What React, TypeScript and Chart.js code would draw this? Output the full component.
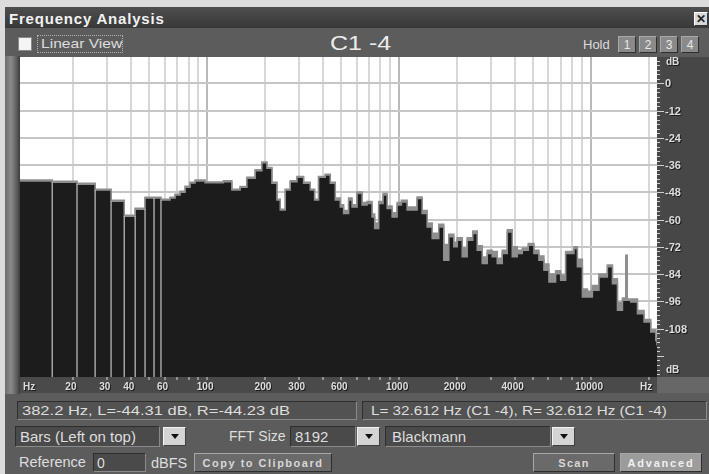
import React, { useEffect, useRef } from "react";
import { Chart, registerables } from "chart.js";

Chart.register(...registerables);

// ---- data ----
const freqHz = [
  10.6, 15.6, 21.0, 26.1, 31.6, 37.0, 42.2, 47.5, 52.9, 57.5,
  64.1, 68.1, 72.3, 76.8, 81.5, 86.6, 91.9, 97.6, 110.1, 121.6,
  134.5, 148.6, 161.1, 178.0, 192.9, 204.8, 217.5, 231.0, 240.4, 255.3,
  271.0, 293.8, 318.0, 344.6, 362.9, 380.7, 412.6, 438.1, 465.2, 494.0,
  514.0, 545.9, 568.6, 603.8, 641.2, 680.9, 723.1, 746.0, 782.8, 825.2,
  865.9, 919.5, 976.4, 1028, 1101, 1169, 1241, 1318, 1400, 1487,
  1609, 1709, 1815, 1927, 2007, 2132, 2263, 2421, 2552, 2710,
  2878, 3056, 3245, 3446, 3660, 3886, 4126, 4382, 4709, 5037,
  5349, 5680, 6032, 6537, 6940, 7371, 8144, 8484, 9010, 9566,
  10160, 10990, 12160, 12920, 13720, 14570, 15160, 15430, 16090, 17440,
  18880, 20460, 21730, 22050,
];

const leftDb = [
  -43.0, -43.5, -44.4, -47.0, -51.9, -58.5, -55.4, -50.5, -50.5, -51.4,
  -50.5, -49.2, -47.9, -45.7, -43.9, -43.0, -43.0, -43.8, -43.8, -43.3,
  -47.0, -45.8, -41.8, -38.5, -35.0, -37.4, -44.0, -51.4, -55.8, -47.0,
  -43.3, -41.4, -44.0, -47.0, -51.4, -41.4, -40.4, -44.0, -51.4, -54.4,
  -57.3, -51.4, -54.4, -48.5, -53.6, -52.9, -58.8, -63.9, -52.9, -49.2,
  -55.1, -58.8, -53.6, -52.2, -55.8, -55.8, -50.7, -57.3, -63.2, -68.3,
  -63.2, -77.9, -67.6, -72.0, -69.1, -76.4, -69.1, -66.1, -73.5, -79.3,
  -74.9, -76.4, -79.3, -74.9, -65.4, -76.4, -74.9, -73.5, -71.3, -74.9,
  -77.9, -82.3, -87.5, -83.8, -86.7, -74.9, -72.7, -80.8, -94.1, -94.1,
  -91.1, -85.3, -80.8, -88.2, -99.9, -95.5, -95.5, -95.5, -96.3, -101.4,
  -105.1, -109.5, -113.2, -115.4,
];

const rightDb = [
  -42.6, -43.1, -44.0, -46.6, -51.5, -58.1, -55.0, -50.1, -50.1, -51.0,
  -50.1, -48.8, -47.5, -45.3, -43.5, -42.6, -42.6, -43.4, -43.4, -42.9,
  -46.6, -45.4, -41.4, -38.1, -34.6, -37.0, -43.6, -51.0, -55.4, -46.6,
  -42.9, -41.0, -43.6, -46.6, -51.0, -41.0, -40.0, -43.6, -50.5, -53.5,
  -56.0, -50.5, -53.5, -47.8, -52.5, -52.0, -57.5, -61.5, -52.0, -48.5,
  -54.0, -57.0, -52.5, -51.5, -54.5, -54.5, -50.0, -56.0, -61.5, -66.0,
  -62.0, -71.0, -66.5, -70.0, -68.0, -72.5, -68.0, -65.0, -71.5, -76.5,
  -73.5, -74.0, -77.0, -73.5, -64.5, -72.0, -73.5, -72.5, -70.5, -73.5,
  -76.0, -79.5, -84.0, -82.5, -84.5, -74.0, -72.0, -77.5, -90.5, -91.5,
  -89.0, -84.0, -80.0, -86.0, -96.5, -94.5, -75.7, -95.0, -95.0, -100.0,
  -104.0, -108.5, -112.0, -115.0,
];

const barSeparatorMaxHz = 58;
const xGridHz = [
  20, 30, 40, 50, 60, 70, 80, 90,
  100, 200, 300, 400, 500, 600, 700, 800, 900,
  1000, 2000, 3000, 4000, 5000, 6000, 7000, 8000, 9000,
  10000, 20000,
];
const xMajorHz = [100, 1000, 10000];
const xLabelHz = [20, 30, 40, 60, 100, 200, 300, 500, 1000, 2000, 4000, 10000];
const xLabelText = ["20", "30", "40", "60", "100", "200", "300", "600", "1000", "2000", "4000", "10000"];
const yTickDb = [0, -12, -24, -36, -48, -60, -72, -84, -96, -108, -120];
const yLabelDb = [0, -12, -24, -36, -48, -60, -72, -84, -96, -108];
const yMinDb = -129.3;
const yMaxDb = 11.6;
const xMinHz = 10.6;
const xMaxHz = 22050;

const FONT = '"Liberation Sans", Arial, sans-serif';

function embossText(ctx: any, t: string, x: number, y: number) {
  ctx.fillStyle = "#1a1a1a";
  ctx.fillText(t, x + 1, y + 1);
  ctx.fillStyle = "#dedede";
  ctx.fillText(t, x, y);
}

const bgPlugin = {
  id: "bg",
  beforeDraw(chart: any) {
    const { ctx, chartArea: a, width, height } = chart;
    ctx.save();
    ctx.fillStyle = "#ffffff";
    ctx.fillRect(a.left, a.top, a.right - a.left, a.bottom - a.top);
    ctx.fillStyle = "#474747";
    ctx.fillRect(a.right, 0, width - a.right, a.bottom);
    ctx.fillStyle = "#4a4a4a";
    ctx.fillRect(0, a.bottom, a.right, height - a.bottom);
    ctx.fillStyle = "#676767";
    ctx.fillRect(a.right, a.bottom, width - a.right, height - a.bottom);
    ctx.restore();
  },
};

const separatorPlugin = {
  id: "separators",
  afterDatasetsDraw(chart: any) {
    const { ctx } = chart;
    const xs = chart.scales.x;
    const ys = chart.scales.y;
    ctx.save();
    ctx.strokeStyle = "#b8b8b8";
    ctx.lineWidth = 1.3;
    for (let i = 1; i < freqHz.length && freqHz[i] <= barSeparatorMaxHz; i++) {
      const px = xs.getPixelForValue(freqHz[i]);
      const top = ys.getPixelForValue(Math.min(leftDb[i - 1], leftDb[i]));
      ctx.beginPath();
      ctx.moveTo(px, ys.bottom);
      ctx.lineTo(px, top);
      ctx.stroke();
    }
    ctx.restore();
  },
};

const axisTextPlugin = {
  id: "axisText",
  afterDraw(chart: any) {
    const { ctx, chartArea: a } = chart;
    const ys = chart.scales.y;
    const xs = chart.scales.x;
    ctx.save();
    ctx.strokeStyle = "#d0d0d0";
    ctx.lineWidth = 1;
    for (let d = 10; d >= -128; d -= 2) {
      const py = Math.round(ys.getPixelForValue(d)) + 0.5;
      const len = d % 12 === 0 ? 7 : 3;
      ctx.beginPath();
      ctx.moveTo(a.right, py);
      ctx.lineTo(a.right + len, py);
      ctx.stroke();
    }
    ctx.font = `bold 11px ${FONT}`;
    ctx.textBaseline = "middle";
    ctx.textAlign = "left";
    yLabelDb.forEach((v) => {
      embossText(ctx, String(v), a.right + 8, ys.getPixelForValue(v) + 1);
    });
    ctx.font = `bold 10px ${FONT}`;
    embossText(ctx, "dB", a.right + 9, a.top + 5);
    embossText(ctx, "dB", a.right + 9, a.bottom - 7);
    ctx.textAlign = "center";
    xLabelHz.forEach((v, i) => {
      embossText(ctx, xLabelText[i], xs.getPixelForValue(v) - 2, a.bottom + 10);
    });
    ctx.textAlign = "left";
    embossText(ctx, "Hz", 3, a.bottom + 10);
    embossText(ctx, "Hz", a.right - 17, a.bottom + 10);
    ctx.restore();
  },
};

function sunken(extra: React.CSSProperties): React.CSSProperties {
  return {
    position: "absolute",
    boxSizing: "border-box",
    background: "#525252",
    borderStyle: "solid",
    borderWidth: 1,
    borderColor: "#2e2e2e #8a8a8a #8a8a8a #2e2e2e",
    color: "#dedede",
    fontSize: 13,
    lineHeight: "normal",
    paddingLeft: 4,
    display: "flex",
    alignItems: "center",
    whiteSpace: "nowrap",
    overflow: "hidden",
    ...extra,
  };
}

function raised(extra: React.CSSProperties): React.CSSProperties {
  return {
    position: "absolute",
    boxSizing: "border-box",
    background: "#6a6a6a",
    borderStyle: "solid",
    borderWidth: 1,
    borderColor: "#a8a8a8 #2e2e2e #2e2e2e #a8a8a8",
    color: "#e0e0e0",
    display: "flex",
    alignItems: "center",
    justifyContent: "center",
    whiteSpace: "nowrap",
    ...extra,
  };
}

function Wide({ text, sx = 1.2 }: { text: string; sx?: number }) {
  return <span style={{ display: "inline-block", transform: `scaleX(${sx})`, transformOrigin: "left center" }}>{text}</span>;
}

function Arrow({ left, top }: { left: number; top: number }) {
  return (
    <div style={raised({ left, top, width: 23, height: 19, background: "#d4d4d4", borderColor: "#f4f4f4 #404040 #404040 #f4f4f4" })}>
      <div style={{ width: 0, height: 0, borderLeft: "4px solid transparent", borderRight: "4px solid transparent", borderTop: "5px solid #111" }} />
    </div>
  );
}

function Label({ left, top, text, size = 13, color = "#dedede" }: { left: number; top: number; text: string; size?: number; color?: string }) {
  return (
    <div style={{ position: "absolute", left, top, fontSize: size, color, whiteSpace: "nowrap", lineHeight: "normal" }}>{text}</div>
  );
}

export default function App() {
  const ref = useRef<HTMLCanvasElement>(null);

  useEffect(() => {
    const canvas = ref.current!;
    const common = { fill: "start", pointRadius: 0, borderWidth: 1.5, stepped: "before" };
    const chart = new Chart(canvas, {
      type: "line",
      data: {
        datasets: [
          { ...common, label: "L", data: freqHz.map((f, i) => ({ x: f, y: leftDb[i] })), backgroundColor: "#1c1c1c", borderColor: "#8e8e8e" },
          { ...common, label: "R", data: freqHz.map((f, i) => ({ x: f, y: rightDb[i] })), backgroundColor: "#8e8e8e", borderColor: "#8e8e8e" },
        ],
      },
      options: {
        animation: false,
        responsive: false,
        maintainAspectRatio: false,
        layout: { padding: 0 },
        plugins: { legend: { display: false }, tooltip: { enabled: false } },
        scales: {
          x: {
            type: "logarithmic",
            min: xMinHz,
            max: xMaxHz,
            afterBuildTicks: (s: any) => {
              s.ticks = xGridHz.map((v) => ({ value: v }));
            },
            afterFit: (s: any) => {
              s.height = 16;
            },
            ticks: { display: false },
            grid: {
              color: (c: any) => (xMajorHz.includes(c.tick?.value) ? "#b9b9b9" : "#d8d8d8"),
              lineWidth: 2,
              drawTicks: true,
              tickLength: 3,
              tickColor: "#d8d8d8",
              tickWidth: 1,
            },
            border: { display: false },
          },
          y: {
            type: "linear",
            position: "right",
            min: yMinDb,
            max: yMaxDb,
            afterBuildTicks: (s: any) => {
              s.ticks = yTickDb.map((v) => ({ value: v }));
            },
            afterFit: (s: any) => {
              s.width = 52;
            },
            ticks: { display: false },
            grid: { color: "#c6c6c6", lineWidth: 2, drawTicks: false },
            border: { display: false },
          },
        },
      },
      plugins: [bgPlugin, separatorPlugin, axisTextPlugin],
    } as any);
    return () => chart.destroy();
  }, []);

  return (
    <div style={{ position: "fixed", left: 0, top: 0, width: 709, height: 474, background: "#5c5c5c", overflow: "hidden", fontFamily: FONT }}>
      <div style={{ position: "absolute", left: 0, top: 0, width: 709, height: 7, background: "#dcdcdc" }} />
      <div style={{ position: "absolute", left: 0, top: 0, width: 5, height: 474, background: "#dcdcdc" }} />
      <div style={{ position: "absolute", left: 5, top: 7, width: 704, height: 21, background: "linear-gradient(#4e4e4e, #383838)" }} />
      <div style={{ position: "absolute", left: 9, top: 10, fontSize: 15, fontWeight: "bold", letterSpacing: 0.8, color: "#f2f2f2", whiteSpace: "nowrap" }}>Frequency Analysis</div>
      <div style={raised({ left: 694, top: 12, width: 14, height: 14, background: "#d8d8d8", borderColor: "#fff #333 #333 #fff", color: "#222", fontSize: 12, fontWeight: "bold" })}>✕</div>
      <div style={{ position: "absolute", left: 18, top: 37, width: 14, height: 14, background: "#f4f4f4", boxSizing: "border-box", border: "1px solid #8a8a8a" }} />
      <div style={{ position: "absolute", left: 37, top: 35, width: 86, height: 18, boxSizing: "border-box", border: "1px dotted #b0b0b0" }} />
      <div style={{ position: "absolute", left: 41, top: 36, fontSize: 13, color: "#dcdcdc", whiteSpace: "nowrap" }}><Wide text="Linear View" sx={1.2} /></div>
      <div style={{ position: "absolute", left: 330, top: 32, fontSize: 20, color: "#ececec", whiteSpace: "nowrap" }}><Wide text="C1 -4" sx={1.25} /></div>
      <Label left={583} top={37} text="Hold" size={13} color="#dcdcdc" />
      {["1", "2", "3", "4"].map((t, i) => (
        <div key={t} style={raised({ left: 618 + i * 21, top: 36, width: 18, height: 17, background: "#8a8a8a", fontSize: 12, color: "#e8e8e8" })}>{t}</div>
      ))}
      <div style={{ position: "absolute", left: 5, top: 56, width: 15, height: 338, background: "linear-gradient(90deg, #6e6e6e, #8a8a8a 40%, #5a5a5a 80%, #3a3a3a)" }} />
      <canvas ref={ref} width={689} height={336} style={{ position: "absolute", left: 20, top: 57, width: 689, height: 336 }} />
      <div style={sunken({ left: 17, top: 401, width: 340, height: 19 })}><Wide text="382.2 Hz, L=-44.31 dB, R=-44.23 dB" sx={1.27} /></div>
      <div style={sunken({ left: 362, top: 401, width: 345, height: 19, paddingLeft: 8 })}><Wide text="L= 32.612 Hz (C1 -4), R= 32.612 Hz (C1 -4)" sx={1.17} /></div>
      <div style={sunken({ left: 15, top: 426, width: 145, height: 21, fontSize: 15, background: "#4a4a4a" })}>Bars (Left on top)</div>
      <Arrow left={163} top={427} />
      <Label left={229} top={428} text="FFT Size" size={14} />
      <div style={sunken({ left: 290, top: 426, width: 66, height: 21, fontSize: 15, background: "#4a4a4a" })}>8192</div>
      <Arrow left={357} top={427} />
      <div style={sunken({ left: 385, top: 426, width: 166, height: 21, fontSize: 15, background: "#4a4a4a", paddingLeft: 6 })}>Blackmann</div>
      <Arrow left={552} top={427} />
      <Label left={19} top={454} text="Reference" size={14.5} />
      <div style={sunken({ left: 93, top: 453, width: 53, height: 19, fontSize: 14, paddingLeft: 3, background: "#4a4a4a" })}>0</div>
      <Label left={151} top={455} text="dBFS" size={14.5} />
      <div style={raised({ left: 194, top: 453, width: 138, height: 19, fontSize: 11, fontWeight: "bold", letterSpacing: 1.5, color: "#d8d8d8" })}>Copy to Clipboard</div>
      <div style={raised({ left: 533, top: 453, width: 82, height: 19, fontSize: 11, fontWeight: "bold", letterSpacing: 1.3, color: "#d8d8d8" })}>Scan</div>
      <div style={raised({ left: 620, top: 453, width: 82, height: 19, fontSize: 11, fontWeight: "bold", letterSpacing: 1.8, background: "#9c9c9c", color: "#f0f0f0" })}>Advanced</div>
    </div>
  );
}
